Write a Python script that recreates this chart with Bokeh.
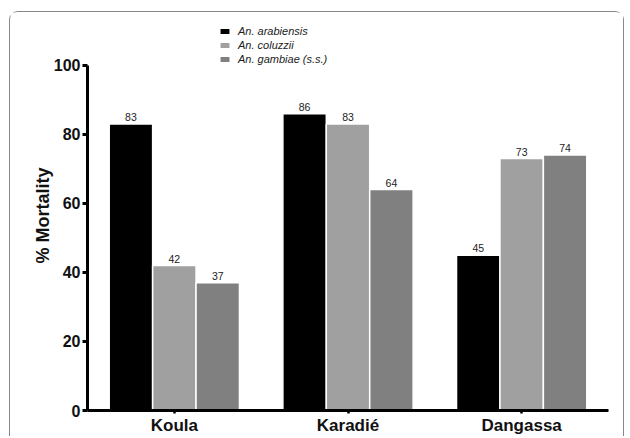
from bokeh.plotting import figure
from bokeh.models import ColumnDataSource, FactorRange, Range1d, Legend, LegendItem, LabelSet, FixedTicker
from bokeh.transform import dodge
from bokeh.core.properties import value
from bokeh.embed import file_html
from bokeh.resources import INLINE

sites = ["Koula", "Karadié", "Dangassa"]
species = ["An. arabiensis", "An. coluzzii", "An. gambiae (s.s.)"]
arabiensis = [83, 86, 45]
coluzzii = [42, 83, 73]
gambiae = [37, 64, 74]
y_ticks = [0, 20, 40, 60, 80, 100]
colors = ["#000000", "#a0a0a0", "#808080"]
offsets = [-0.25, 0.0, 0.25]

src = ColumnDataSource(dict(
    site=sites,
    arabiensis=arabiensis,
    coluzzii=coluzzii,
    gambiae=gambiae,
    lab_a=[str(v) for v in arabiensis],
    lab_c=[str(v) for v in coluzzii],
    lab_g=[str(v) for v in gambiae],
))

p = figure(
    width=615, height=425,
    x_range=FactorRange(*sites, range_padding=0),
    y_range=Range1d(0, 113.0),
    output_backend="svg", toolbar_location=None,
    min_border_left=77, min_border_right=17, min_border_top=8, min_border_bottom=25,
    margin=(11, 0, 0, 9),
)
p.styles = {"border": "1px solid #888888", "border-bottom": "none",
            "border-radius": "9px 9px 0 0"}
p.outline_line_color = None
p.xgrid.visible = False
p.ygrid.visible = False

cols = ["arabiensis", "coluzzii", "gambiae"]
labs = ["lab_a", "lab_c", "lab_g"]
items = []
for col, lab, off, c, name in zip(cols, labs, offsets, colors, species):
    r = p.vbar(x=dodge("site", off, range=p.x_range), top=col, width=0.25, bottom=0,
               source=src, fill_color=c, line_color="white", line_width=1.5)
    items.append(LegendItem(label=name, renderers=[r]))
    ls = LabelSet(x=dodge("site", off, range=p.x_range), y=col, text=lab, source=src,
                  text_align="center", text_baseline="bottom", y_offset=3,
                  text_font=value("Liberation Sans"), text_font_size=value("10.5px"),
                  text_color="#222222")
    p.add_layout(ls)

legend = Legend(items=items, location=(131, 345), orientation="vertical",
                label_text_font="Liberation Sans", label_text_font_size="11px",
                label_text_font_style="italic", label_text_color="#222222",
                glyph_width=13, glyph_height=8, label_height=12, spacing=2,
                padding=0, margin=0, border_line_color=None, background_fill_alpha=0,
                label_standoff=7)
p.add_layout(legend, "center")

# Y axis
ya = p.yaxis[0]
ya.bounds = (0, 100)
ya.ticker = FixedTicker(ticks=y_ticks)
ya.minor_tick_line_color = None
ya.axis_line_width = 3
ya.major_tick_line_width = 3
ya.major_tick_out = 5
ya.major_tick_in = 0
ya.major_label_text_font = "Liberation Sans"
ya.major_label_text_font_style = "bold"
ya.major_label_text_font_size = "16px"
ya.major_label_text_color = "#111111"
ya.major_label_standoff = 2
ya.axis_label = "% Mortality"
ya.axis_label_text_font = "Liberation Sans"
ya.axis_label_text_font_style = "bold"
ya.axis_label_text_font_size = "18px"
ya.axis_label_text_color = "#111111"
ya.axis_label_standoff = -2

# X axis
xa = p.xaxis[0]
xa.axis_line_width = 3
xa.major_tick_line_width = 2.5
xa.major_tick_out = 3
xa.major_tick_in = 0
xa.major_label_text_font = "Liberation Sans"
xa.major_label_text_font_style = "bold"
xa.major_label_text_font_size = "17px"
xa.major_label_text_color = "#111111"
xa.major_label_standoff = 2

open("out.html", "w").write(file_html(p, INLINE))
